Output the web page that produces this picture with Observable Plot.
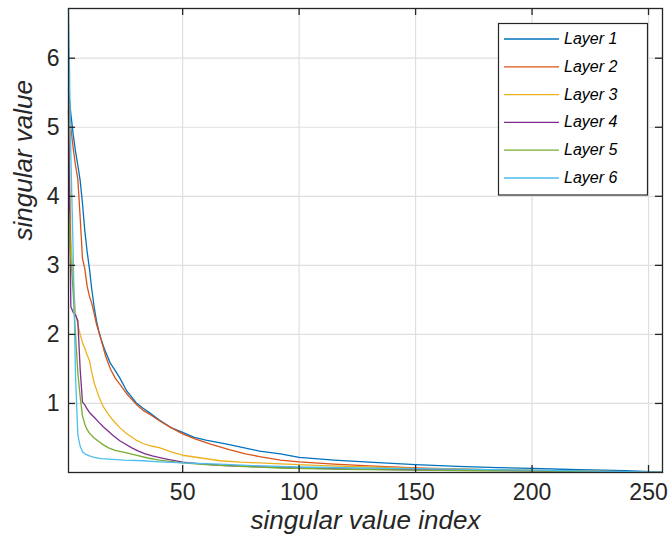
<!DOCTYPE html>
<html>
<head>
<meta charset="utf-8">
<script src="https://cdn.jsdelivr.net/npm/d3@7"></script>
<script src="https://cdn.jsdelivr.net/npm/@observablehq/plot@0.6"></script>
<style>
  html, body { margin: 0; padding: 0; background: #fff; }
  #chart { position: relative; width: 669px; height: 536px; }
</style>
</head>
<body>
<div id="chart"></div>
<script>
// ---- data ----
const layerNames = ["Layer 1", "Layer 2", "Layer 3", "Layer 4", "Layer 5", "Layer 6"];
const layerColors = ["#0072BD", "#D95319", "#EDB120", "#7E2F8E", "#77AC30", "#4DBEEE"];
const xTicks = [50, 100, 150, 200, 250];
const yTicks = [1, 2, 3, 4, 5, 6];
const xLabel = "singular value index";
const yLabel = "singular value";

// [singular value index, singular value]
const layer1 = [[1,5.56],[2,5.2],[3,4.9],[4,4.65],[5,4.45],[6,4.23],[7,3.9],[8,3.5],[9,3.2],[10,2.95],[11,2.65],[12,2.4],[13,2.2],[14,2.05],[15,1.93],[16,1.83],[17,1.74],[19,1.58],[21,1.48],[23,1.37],[26,1.18],[28,1.1],[30,1.01],[33,0.93],[36,0.86],[40,0.76],[45,0.65],[50,0.58],[55,0.51],[60,0.47],[69,0.41],[76,0.36],[83,0.31],[92,0.27],[100,0.22],[115,0.18],[130,0.15],[150,0.115],[168,0.09],[185,0.07],[200,0.06],[220,0.04],[240,0.025],[256,0.005]];
const layer2 = [[1,5.43],[2,5.0],[3,4.7],[4,4.45],[5,4.25],[6,3.7],[7,3.1],[8,2.95],[9,2.7],[10,2.55],[11,2.45],[12,2.3],[13,2.15],[15,1.92],[17,1.68],[19,1.5],[21,1.37],[23,1.28],[26,1.14],[30,0.99],[33,0.9],[36,0.84],[40,0.75],[45,0.65],[50,0.56],[55,0.49],[62,0.41],[70,0.33],[77,0.27],[83,0.23],[92,0.18],[100,0.155],[115,0.12],[130,0.095],[150,0.065],[175,0.045],[200,0.03],[225,0.02],[256,0.005]];
const layer3 = [[1,5.3],[2,3.4],[3,2.8],[4,2.3],[5,2.15],[6,2.0],[7,1.88],[8,1.8],[9,1.7],[10,1.62],[11,1.45],[12,1.3],[13,1.2],[14,1.1],[16,0.95],[18,0.85],[20,0.76],[23,0.65],[26,0.56],[30,0.47],[33,0.42],[37,0.38],[40,0.36],[45,0.3],[50,0.25],[58,0.21],[66,0.17],[75,0.15],[92,0.125],[110,0.1],[130,0.08],[150,0.06],[175,0.045],[200,0.03],[230,0.015],[256,0.003]];
const layer4 = [[1,5.25],[2,2.4],[3,2.32],[4,2.28],[5,2.2],[6,1.5],[7,1.02],[8,0.98],[9,0.92],[10,0.87],[12,0.8],[14,0.73],[16,0.66],[18,0.6],[20,0.54],[23,0.46],[25,0.42],[28,0.36],[31,0.31],[34,0.27],[37,0.24],[42,0.2],[50,0.15],[58,0.125],[66,0.105],[80,0.085],[100,0.065],[125,0.05],[150,0.04],[180,0.03],[210,0.02],[256,0.003]];
const layer5 = [[1,3.8],[2,3.1],[3,2.6],[4,2.0],[5,1.45],[6,1.1],[7,0.82],[8,0.7],[9,0.62],[10,0.57],[12,0.5],[14,0.45],[16,0.4],[18,0.36],[21,0.32],[25,0.29],[30,0.25],[35,0.21],[40,0.18],[50,0.14],[60,0.115],[70,0.095],[92,0.065],[120,0.045],[150,0.035],[180,0.025],[220,0.015],[256,0.003]];
const layer6 = [[1,6.72],[2,4.6],[3,3.2],[4,1.4],[5,0.55],[6,0.38],[7,0.3],[8,0.27],[10,0.24],[12,0.22],[15,0.2],[20,0.19],[25,0.18],[33,0.17],[40,0.155],[50,0.14],[66,0.12],[80,0.1],[100,0.08],[125,0.065],[150,0.055],[175,0.045],[200,0.035],[225,0.02],[256,0.005]];

const layers = [layer1, layer2, layer3, layer4, layer5, layer6];
const rows = layers.flatMap((arr, k) => arr.map(([i, v]) => ({layer: layerNames[k], i, v})));

const font = "'Liberation Sans', Arial, Helvetica, sans-serif";
const axisColor = "#262626";
const gridColor = "#dfdfdf";
const intFmt = d3.format("d");

const W = 669, H = 536, mL = 68, mR = 7, mT = 8, mB = 64;
const frameW = W - mL - mR, frameH = H - mT - mB, tickLen = 7;

const chart = Plot.plot({
  width: W,
  height: H,
  marginLeft: mL,
  marginRight: mR,
  marginTop: mT,
  marginBottom: mB,
  style: {fontFamily: font, background: "#fff", color: axisColor, overflow: "visible"},
  x: {domain: [1, 256]},
  y: {domain: [0, 6.72]},
  color: {domain: layerNames, range: layerColors},
  marks: [
    Plot.gridX(xTicks, {stroke: gridColor, strokeOpacity: 1, strokeWidth: 1.2}),
    Plot.gridY(yTicks, {stroke: gridColor, strokeOpacity: 1, strokeWidth: 1.2}),
    Plot.line(rows, {x: "i", y: "v", z: "layer", stroke: "layer", strokeWidth: 1.3}),
    Plot.frame({stroke: axisColor, strokeWidth: 1.3}),
    // tick labels
    Plot.axisX(xTicks, {anchor: "bottom", tickSize: 0, tickPadding: 11, fontSize: 23, label: null, fill: axisColor, tickFormat: intFmt}),
    Plot.axisY(yTicks, {anchor: "left", tickSize: 0, tickPadding: 9, fontSize: 23, label: null, fill: axisColor, tickFormat: intFmt}),
    // inward tick marks on all four sides
    Plot.tickX(xTicks, {x: d => d, stroke: axisColor, strokeWidth: 1.3, insetTop: frameH - tickLen}),
    Plot.tickX(xTicks, {x: d => d, stroke: axisColor, strokeWidth: 1.3, insetBottom: frameH - tickLen}),
    Plot.tickY(yTicks, {y: d => d, stroke: axisColor, strokeWidth: 1.3, insetRight: frameW - tickLen}),
    Plot.tickY(yTicks, {y: d => d, stroke: axisColor, strokeWidth: 1.3, insetLeft: frameW - tickLen}),
    // axis titles
    Plot.text([xLabel], {frameAnchor: "bottom", lineAnchor: "bottom", dy: 56, fontSize: 26, fontStyle: "italic", fill: axisColor}),
    Plot.text([yLabel], {frameAnchor: "left", lineAnchor: "bottom", rotate: -90, dx: -37, fontSize: 26, fontStyle: "italic", fill: axisColor})
  ]
});

document.getElementById("chart").appendChild(chart);

// ---- legend box (inside the axes, top right) ----
const svg = d3.select(chart);
const lg = svg.append("g").attr("font-family", font).attr("text-anchor", "start");
const boxX = 498.5, boxY = 23.5, boxW = 149, boxH = 171.5, rowH = 27.8;
lg.append("rect").attr("x", boxX).attr("y", boxY).attr("width", boxW).attr("height", boxH)
  .attr("fill", "#fff").attr("stroke", axisColor).attr("stroke-width", 1.2);
layerNames.forEach((name, k) => {
  const cy = 39 + k * rowH;
  lg.append("line").attr("x1", 504).attr("x2", 559).attr("y1", cy).attr("y2", cy)
    .attr("stroke", layerColors[k]).attr("stroke-width", 1.3);
  lg.append("text").attr("x", 564).attr("y", cy + 5).attr("font-size", 16)
    .attr("text-anchor", "start").attr("font-style", "italic").attr("fill", "#000").text(name);
});
</script>
</body>
</html>
